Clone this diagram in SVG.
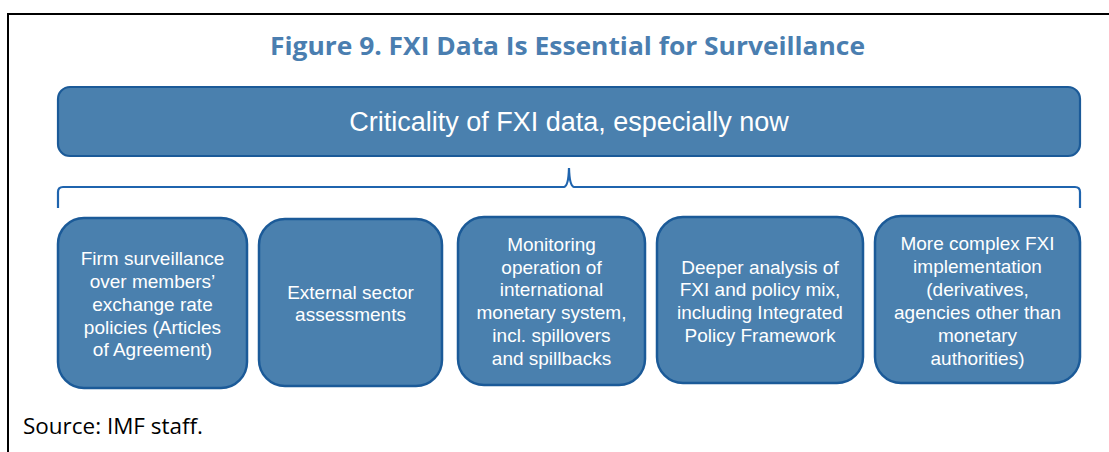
<svg xmlns="http://www.w3.org/2000/svg" width="1109" height="452" viewBox="0 0 1109 452">
<style>
.frame{fill:none;stroke:#000;stroke-width:2}
.title{font-family:"Open Sans","Noto Sans",sans-serif;font-weight:700;font-size:25px;fill:#4a7eb0}
.src{font-family:"Open Sans","Noto Sans",sans-serif;font-size:21px;fill:#000}
.box{fill:#4a80ae;stroke:#1b5a98;stroke-width:2.5}
.main{fill:#4a80ae;stroke:#1b5a98;stroke-width:2.2}
.t{font-family:"Liberation Sans",Arial,sans-serif;font-size:19px;fill:#fff;text-anchor:middle}
.tm{font-family:"Liberation Sans",Arial,sans-serif;font-size:27px;fill:#fff;text-anchor:middle}
.brace{fill:none;stroke:#1f64ae;stroke-width:2.2}
</style>
<rect width="1109" height="452" fill="#fff"/>
<path class="frame" d="M8,452 V14 H1109"/>
<text class="title" x="567.5" y="55" text-anchor="middle" textLength="595" lengthAdjust="spacingAndGlyphs">Figure 9. FXI Data Is Essential for Surveillance</text>
<g id="main">
<rect class="main" x="58" y="87" width="1022" height="69" rx="12"/>
<text class="tm" x="569" y="131">Criticality of FXI data, especially now</text>
</g>
<g id="connectors">
<path class="brace" d="M58,208 V192 Q58,187 63,187 H564 Q568.5,186 569,168 Q569.5,186 574,187 H1075 Q1080,187 1080,192 V208"/>
</g>
<g id="n1">
<rect class="box" x="58" y="218" width="189" height="170" rx="26"/>
<text class="t" x="152.5" y="265">Firm surveillance</text>
<text class="t" x="152.5" y="288">over members’</text>
<text class="t" x="152.5" y="311">exchange rate</text>
<text class="t" x="152.5" y="334">policies (Articles</text>
<text class="t" x="152.5" y="356">of Agreement)</text>
</g>
<g id="n2">
<rect class="box" x="259" y="219" width="183" height="167" rx="26"/>
<text class="t" x="350.5" y="299">External sector</text>
<text class="t" x="350.5" y="321">assessments</text>
</g>
<g id="n3">
<rect class="box" x="458" y="217" width="187" height="168" rx="26"/>
<text class="t" x="551.5" y="251">Monitoring</text>
<text class="t" x="551.5" y="274">operation of</text>
<text class="t" x="551.5" y="296">international</text>
<text class="t" x="551.5" y="319">monetary system,</text>
<text class="t" x="551.5" y="342">incl. spillovers</text>
<text class="t" x="551.5" y="365">and spillbacks</text>
</g>
<g id="n4">
<rect class="box" x="657" y="217" width="206" height="166" rx="26"/>
<text class="t" x="760" y="274">Deeper analysis of</text>
<text class="t" x="760" y="296">FXI and policy mix,</text>
<text class="t" x="760" y="319">including Integrated</text>
<text class="t" x="760" y="342">Policy Framework</text>
</g>
<g id="n5">
<rect class="box" x="875" y="216" width="205" height="167" rx="26"/>
<text class="t" x="977.5" y="250">More complex FXI</text>
<text class="t" x="977.5" y="273">implementation</text>
<text class="t" x="977.5" y="296">(derivatives,</text>
<text class="t" x="977.5" y="319">agencies other than</text>
<text class="t" x="977.5" y="342">monetary</text>
<text class="t" x="977.5" y="365">authorities)</text>
</g>
<text class="src" x="23" y="434" textLength="180" lengthAdjust="spacingAndGlyphs">Source: IMF staff.</text>
</svg>
